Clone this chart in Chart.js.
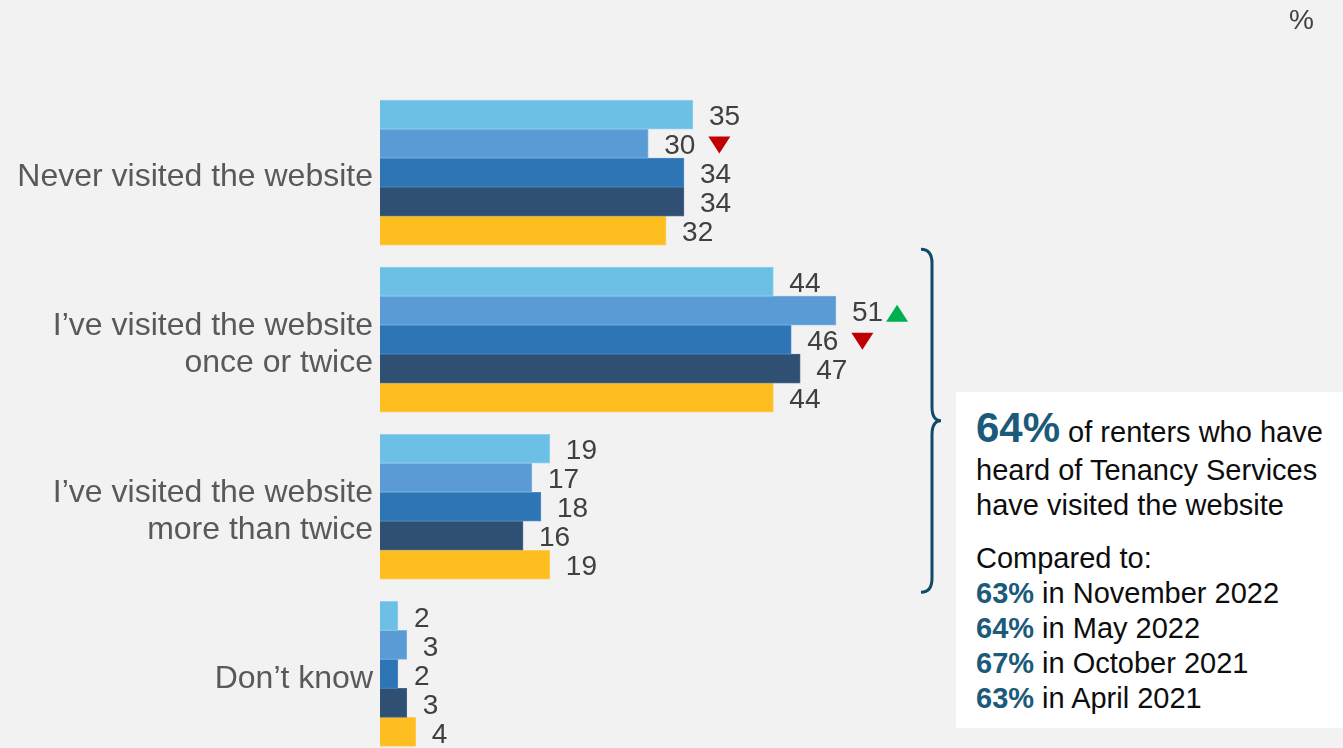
<!DOCTYPE html>
<html>
<head>
<meta charset="utf-8">
<script src="https://cdn.jsdelivr.net/npm/chart.js@4"></script>
<style>
  body { margin: 0; background: #f2f2f2; overflow: hidden; font-family: 'Liberation Sans', Arial, sans-serif; }
  #wrap { position: absolute; left: 0; top: 0; width: 1343px; height: 783px; }
  #unit { position: absolute; left: 1289px; top: 4px; font-size: 28px; color: #404040; }
  #callout { position: absolute; left: 956px; top: 392px; width: 387px; height: 336px; background: #fff; color: #0d0d0d; }
  #callout .big { font-size: 42px; font-weight: bold; color: #1b5a7a; }
  #callout .pct { font-weight: bold; color: #1b5a7a; }
  #callout p { margin: 0; position: absolute; left: 20px; font-size: 29px; line-height: 35px; white-space: nowrap; }
</style>
</head>
<body>
<div id="wrap"><canvas id="myChart"></canvas></div>
<div id="unit">%</div>
<div id="callout">
  <p style="top: 18px;"><span class="big">64%</span> of renters who have</p>
  <p style="top: 61px;">heard of Tenancy Services<br>have visited the website</p>
  <p style="top: 149px;">Compared to:<br><span class="pct">63%</span> in November 2022<br><span class="pct">64%</span> in May 2022<br><span class="pct">67%</span> in October 2021<br><span class="pct">63%</span> in April 2021</p>
</div>
<script>
// categories and survey waves
const categories = [
    ['Never visited the website'],
    ['I’ve visited the website', 'once or twice'],
    ['I’ve visited the website', 'more than twice'],
    ['Don’t know']
];
const waves = ['April 2021', 'October 2021', 'May 2022', 'November 2022', 'Latest'];

// % per wave
const apr2021 = [35, 44, 19, 2];
const oct2021 = [30, 51, 17, 3];
const may2022 = [34, 46, 18, 2];
const nov2022 = [34, 47, 16, 3];
const latest = [32, 44, 19, 4];

// significant change vs previous wave
const oct2021Marks = ['down', 'up', null, null];
const may2022Marks = [null, 'down', null, null];

const waveColors = ['#6cc0e5', '#5a9bd5', '#2e75b6', '#2f5073', '#ffbe1f'];
const borderColors = ['#8fd0ee', '#7eb2e0', '#4a8bc6', '#45668a', '#ffcc55'];
const seriesData = [apr2021, oct2021, may2022, nov2022, latest];
const seriesMarks = [null, oct2021Marks, may2022Marks, null, null];

const FONT = "'Liberation Sans', Arial, sans-serif";

// value labels + up/down triangles
const valueLabels = {
    id: 'valueLabels',
    afterDatasetsDraw(chart) {
        const ctx = chart.ctx;
        ctx.save();
        ctx.font = '28px ' + FONT;
        ctx.textAlign = 'left';
        ctx.textBaseline = 'middle';
        chart.data.datasets.forEach((ds, i) => {
            const meta = chart.getDatasetMeta(i);
            meta.data.forEach((bar, j) => {
                const txt = String(ds.data[j]);
                const x = bar.x + 16;
                const y = bar.y + 1;
                ctx.fillStyle = '#404040';
                ctx.fillText(txt, x, y + 2);
                const marks = seriesMarks[i];
                if (marks && marks[j]) {
                    const tx = x + ctx.measureText(txt).width + (marks[j] === 'up' ? 3 : 13);
                    ctx.beginPath();
                    if (marks[j] === 'down') {
                        ctx.fillStyle = '#c00000';
                        ctx.moveTo(tx, y - 8);
                        ctx.lineTo(tx + 22, y - 8);
                        ctx.lineTo(tx + 11, y + 9);
                    } else {
                        ctx.fillStyle = '#00b050';
                        ctx.moveTo(tx, y + 10);
                        ctx.lineTo(tx + 22, y + 10);
                        ctx.lineTo(tx + 11, y - 7);
                    }
                    ctx.closePath();
                    ctx.fill();
                }
            });
        });
        ctx.restore();
    }
};

// curly brace grouping the two "visited" rows
const visitBrace = {
    id: 'visitBrace',
    afterDraw(chart) {
        const first = chart.getDatasetMeta(0).data[1];
        const last = chart.getDatasetMeta(chart.data.datasets.length - 1).data[2];
        const top = first.y - first.height / 2 - 18;
        const bottom = last.y + last.height / 2 + 13;
        const mid = (top + bottom) / 2;
        const x0 = 921, xm = 932, xt = 941;
        const ctx = chart.ctx;
        ctx.save();
        ctx.strokeStyle = '#114b6b';
        ctx.lineWidth = 3;
        ctx.beginPath();
        ctx.moveTo(x0, top);
        ctx.quadraticCurveTo(xm, top, xm, top + 14);
        ctx.lineTo(xm, mid - 14);
        ctx.quadraticCurveTo(xm, mid, xt, mid);
        ctx.quadraticCurveTo(xm, mid, xm, mid + 14);
        ctx.lineTo(xm, bottom - 14);
        ctx.quadraticCurveTo(xm, bottom, x0, bottom);
        ctx.stroke();
        ctx.restore();
    }
};

var chart = new Chart(document.getElementById('myChart'), {
    type: 'bar',
    data: {
        labels: categories,
        datasets: seriesData.map((d, i) => ({
            label: waves[i],
            data: d,
            backgroundColor: waveColors[i],
            borderColor: borderColors[i],
            borderWidth: 1,
            barThickness: 29
        }))
    },
    options: {
        indexAxis: 'y',
        responsive: true,
        maintainAspectRatio: false,
        animation: false,
        layout: { padding: { top: 89, bottom: 12, right: 69, left: 0 } },
        plugins: { legend: { display: false }, tooltip: { enabled: false } },
        scales: {
            x: { display: false, min: 0, max: 100 },
            y: {
                grid: { display: false, drawTicks: false },
                border: { display: false },
                ticks: {
                    padding: 7,
                    labelOffset: 5,
                    color: '#595959',
                    font: { family: FONT, size: 32, lineHeight: 1.16 }
                },
                afterFit(scale) { scale.width = 380; }
            }
        }
    },
    plugins: [valueLabels, visitBrace]
});
</script>
</body>
</html>
